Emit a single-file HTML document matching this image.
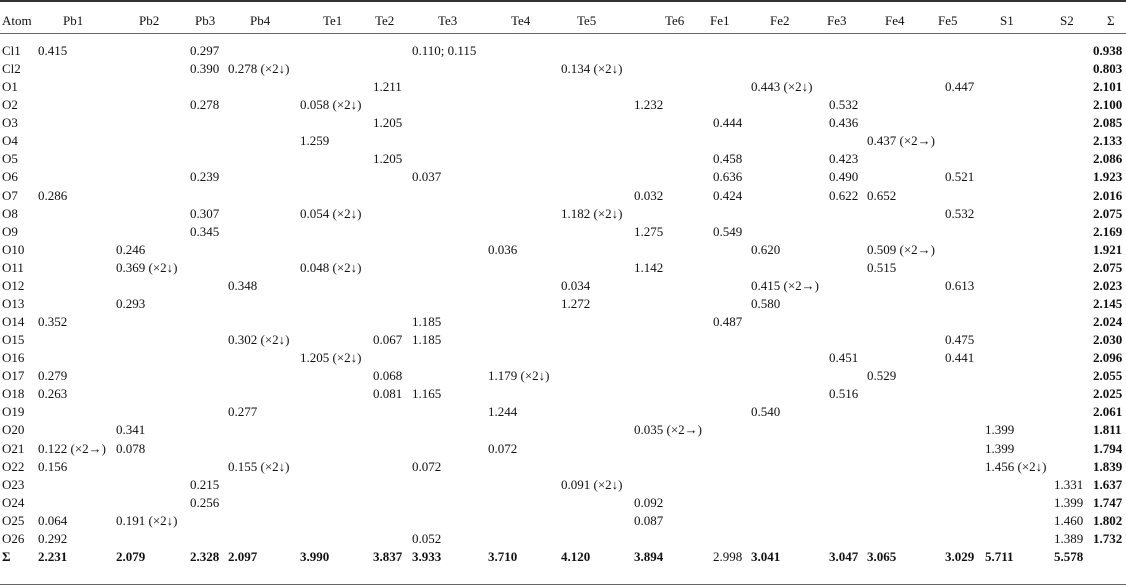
<!DOCTYPE html>
<html><head><meta charset="utf-8"><style>
html,body{margin:0;padding:0;background:#fff;}
#t{position:relative;width:1126px;height:587px;font-family:"Liberation Serif",serif;font-size:13px;color:#111;}
.c{position:absolute;white-space:nowrap;line-height:18px;height:18px;}
.b{font-weight:bold;}
.rule{position:absolute;left:0;width:1126px;}
</style></head><body>
<div id="t">
<div class="rule" style="top:0;height:2px;background:#333"></div>
<div class="rule" style="top:33px;height:1px;background:#666"></div>
<div class="rule" style="top:584px;height:1px;background:#666"></div>
</div>
<script>
const headers=["Atom","Pb1","Pb2","Pb3","Pb4","Te1","Te2","Te3","Te4","Te5","Te6","Fe1","Fe2","Fe3","Fe4","Fe5","S1","S2","Σ"];
const headerX=[2,63,139,195,250,323,375,438,511,577,665,710,770,827,885,938,1000,1060,1107];
const colX=[2,38,116,190,228,300,373,412,488,561,634,713,751,829,867,945,985,1054,1093];
const rows=[
"Cl1|Pb1=0.415|Pb3=0.297|Te3=0.110; 0.115|Σ=0.938",
"Cl2|Pb3=0.390|Pb4=0.278 (×2↓)|Te5=0.134 (×2↓)|Σ=0.803",
"O1|Te2=1.211|Fe2=0.443 (×2↓)|Fe5=0.447|Σ=2.101",
"O2|Pb3=0.278|Te1=0.058 (×2↓)|Te6=1.232|Fe3=0.532|Σ=2.100",
"O3|Te2=1.205|Fe1=0.444|Fe3=0.436|Σ=2.085",
"O4|Te1=1.259|Fe4=0.437 (×2→)|Σ=2.133",
"O5|Te2=1.205|Fe1=0.458|Fe3=0.423|Σ=2.086",
"O6|Pb3=0.239|Te3=0.037|Fe1=0.636|Fe3=0.490|Fe5=0.521|Σ=1.923",
"O7|Pb1=0.286|Te6=0.032|Fe1=0.424|Fe3=0.622|Fe4=0.652|Σ=2.016",
"O8|Pb3=0.307|Te1=0.054 (×2↓)|Te5=1.182 (×2↓)|Fe5=0.532|Σ=2.075",
"O9|Pb3=0.345|Te6=1.275|Fe1=0.549|Σ=2.169",
"O10|Pb2=0.246|Te4=0.036|Fe2=0.620|Fe4=0.509 (×2→)|Σ=1.921",
"O11|Pb2=0.369 (×2↓)|Te1=0.048 (×2↓)|Te6=1.142|Fe4=0.515|Σ=2.075",
"O12|Pb4=0.348|Te5=0.034|Fe2=0.415 (×2→)|Fe5=0.613|Σ=2.023",
"O13|Pb2=0.293|Te5=1.272|Fe2=0.580|Σ=2.145",
"O14|Pb1=0.352|Te3=1.185|Fe1=0.487|Σ=2.024",
"O15|Pb4=0.302 (×2↓)|Te2=0.067|Te3=1.185|Fe5=0.475|Σ=2.030",
"O16|Te1=1.205 (×2↓)|Fe3=0.451|Fe5=0.441|Σ=2.096",
"O17|Pb1=0.279|Te2=0.068|Te4=1.179 (×2↓)|Fe4=0.529|Σ=2.055",
"O18|Pb1=0.263|Te2=0.081|Te3=1.165|Fe3=0.516|Σ=2.025",
"O19|Pb4=0.277|Te4=1.244|Fe2=0.540|Σ=2.061",
"O20|Pb2=0.341|Te6=0.035 (×2→)|S1=1.399|Σ=1.811",
"O21|Pb1=0.122 (×2→)|Pb2=0.078|Te4=0.072|S1=1.399|Σ=1.794",
"O22|Pb1=0.156|Pb4=0.155 (×2↓)|Te3=0.072|S1=1.456 (×2↓)|Σ=1.839",
"O23|Pb3=0.215|Te5=0.091 (×2↓)|S2=1.331|Σ=1.637",
"O24|Pb3=0.256|Te6=0.092|S2=1.399|Σ=1.747",
"O25|Pb1=0.064|Pb2=0.191 (×2↓)|Te6=0.087|S2=1.460|Σ=1.802",
"O26|Pb1=0.292|Te3=0.052|S2=1.389|Σ=1.732",
"Σ|Pb1=2.231|Pb2=2.079|Pb3=2.328|Pb4=2.097|Te1=3.990|Te2=3.837|Te3=3.933|Te4=3.710|Te5=4.120|Te6=3.894|Fe1=2.998|Fe2=3.041|Fe3=3.047|Fe4=3.065|Fe5=3.029|S1=5.711|S2=5.578"
];
const t=document.getElementById('t');
headers.forEach((h,i)=>{
  const s=document.createElement('div');
  s.className='c';s.style.left=headerX[i]+'px';s.style.top='12px';s.textContent=h;
  
  
  t.appendChild(s);
});
function place(text,ci,y,bold,name){
  const s=document.createElement('div');
  s.className='c'+(bold?' b':'');
  s.style.left=colX[ci]+'px';s.style.top=y+'px';s.textContent=text;
  
  
  t.appendChild(s);
}
rows.forEach((r,ri)=>{
  const parts=r.split('|');
  const y=Math.round(42+ri*18.07);
  const isSum=ri===rows.length-1;
  place(parts[0],0,y,isSum,'row-label');
  parts.slice(1).forEach(p=>{
    const k=p.indexOf('=');
    const key=p.slice(0,k),val=p.slice(k+1);
    const ci=headers.indexOf(key);
    let bold=false;
    if(key==='Σ')bold=true;
    if(isSum&&key!=='Fe1')bold=true;
    place(val,ci,y,bold,'table-cell');
  });
});
</script>
</body></html>
